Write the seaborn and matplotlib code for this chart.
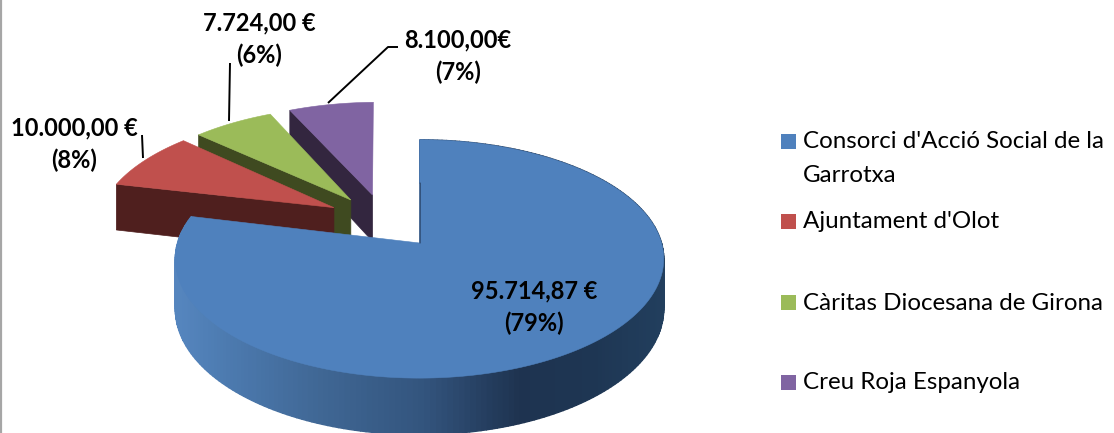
import numpy as np
import matplotlib
matplotlib.use("Agg")
import matplotlib.pyplot as plt
from matplotlib.patches import Rectangle
from matplotlib.colors import LinearSegmentedColormap
import seaborn as sns

# ---- data ----
categories = ["Consorci d'Acció Social de la\nGarrotxa", "Ajuntament d'Olot",
              "Càritas Diocesana de Girona", "Creu Roja Espanyola"]
values = [95714.87, 10000.00, 7724.00, 8100.00]
value_labels = ["95.714,87 €\n(79%)", "10.000,00 €\n(8%)", "7.724,00 €\n(6%)", "8.100,00€\n(7%)"]

# ---- style ----
sns.set_theme(style="white")
plt.rcParams["font.family"] = ["Lato", "DejaVu Sans"]
top_cols = sns.color_palette(["#4F81BD", "#C0504D", "#9BBB59", "#8064A2"])
wall_cols = ["#1F3A57", "#4F1F1E", "#3F4A20", "#33263F"]
explode_xy = [(-0.006, 0), (-0.375, 0.315), (-0.305, 0.387), (-0.212, 0.434)]
rotate_deg = [0.0, -0.6, -1.2, -1.3]
CX, CY, RX, RY, P, DEPTH = 421, 243, 242, 117, 0.134, 49

fig = plt.figure(figsize=(11.14, 4.33), dpi=100)
ax = fig.add_axes([0, 0, 1, 1])
ax.set_xlim(0, 1114)
ax.set_ylim(433, 0)
ax.axis("off")


def project(x, y, z=0.0):
    """Perspective projection of a point of the pie plane onto the axes."""
    f = 1 + P * np.asarray(y)
    return CX + RX * np.asarray(x) / f, CY + (-RY * np.asarray(y) + z * DEPTH) / f


# angles clockwise from 12 o'clock, derived from the values
fractions = np.array(values) / np.sum(values)
edges = np.concatenate([[0], np.cumsum(fractions)]) * 2 * np.pi


def slice_outline(i, n=240):
    t = np.linspace(edges[i], edges[i + 1], n) + np.deg2rad(rotate_deg[i])
    dx, dy = explode_xy[i]
    return np.sin(t) + dx, np.cos(t) + dy, dx, dy


gradient = LinearSegmentedColormap.from_list(
    "side", [(0.0, "#5585BE"), (0.1, "#4C7AAF"), (0.30, "#3F6693"), (0.50, "#33557E"),
             (0.70, "#1E3350"), (0.85, "#1E3653"), (1.0, "#223F5E")])

# painter's order: back slices first, main slice last
for i in [3, 2, 1, 0]:
    xs, ys, dx, dy = slice_outline(i)
    if i == 0:
        # curved outer wall, shaded along its width
        n = len(xs)
        for k in range(n - 1):
            qx = np.array([xs[k], xs[k + 1], xs[k + 1], xs[k]])
            qy = np.array([ys[k], ys[k + 1], ys[k + 1], ys[k]])
            qz = np.array([0, 0, 1, 1])
            px, py = project(qx, qy, qz)
            c = gradient((px.mean() - 178) / 488)
            ax.fill(px, py, facecolor=c, edgecolor=c, lw=1.0, zorder=2)
    else:
        # radial wall facing the viewer (outer arc end to apex)
        rx = np.array([xs[0], dx])
        ry = np.array([ys[0], dy])
        top_x, top_y = project(rx, ry, 0)
        bot_x, bot_y = project(rx[::-1], ry[::-1], 1)
        ax.fill(np.concatenate([top_x, bot_x]), np.concatenate([top_y, bot_y]),
                color=wall_cols[i], lw=0.5, zorder=2)
    px, py = project(np.concatenate([[dx], xs]), np.concatenate([[dy], ys]))
    ax.fill(px, py, color=top_cols[i], lw=0.4, zorder=3)

# thin dark sliver of the main slice's inner face
lx, ly = project(np.array([-0.006, -0.006]), np.array([0.0, 0.55]))
ax.plot(lx + 0.5, ly, color="#2A4468", lw=0.9, zorder=4)

# leader lines
leader_sets = [([142, 143], [135, 158]), ([230, 229], [63, 121]), ([398, 388, 328], [47, 47, 103])]
for lxs, lys in leader_sets:
    ax.plot(lxs, lys, color="black", lw=1.4, zorder=5, solid_capstyle="butt")

# data labels
label_pos = [(534, 307.5), (74, 144.5), (259, 39.5), (458, 56)]
for (lbx, lby), s in zip(label_pos, value_labels):
    ax.text(lbx, lby, s, ha="center", va="center", fontsize=17, fontweight="bold",
            color="black", linespacing=1.45, zorder=6)

# legend
sq_y = [134, 214, 295, 375]
base_y = [148, 228, 310, 389]
for c, sy, by, name in zip(top_cols, sq_y, base_y, categories):
    ax.add_patch(Rectangle((781, sy), 15, 15, color=c, lw=0))
    for j, line in enumerate(name.split("\n")):
        ax.text(803, by + j * 33.5, line, ha="left", va="baseline", fontsize=17.4, color="black")

# frame line on the left
ax.plot([0.8, 0.8], [0, 433], color="#A6A6A6", lw=1.6, zorder=7)

fig.savefig("out.png", dpi=100)
